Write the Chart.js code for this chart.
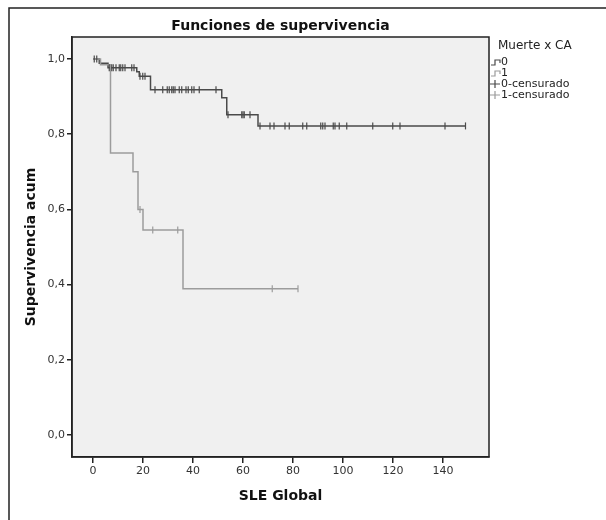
<!DOCTYPE html>
<html>
<head>
<meta charset="utf-8">
<script src="https://cdn.jsdelivr.net/npm/chart.js@4.4.1/dist/chart.umd.min.js"></script>
<style>
  html, body { margin: 0; padding: 0; background: #fff; }
  #wrap { width: 606px; height: 520px; position: relative; }
</style>
</head>
<body>
<div id="wrap"><canvas id="km"></canvas></div>
<script>
// Ticks
const xTicks = [0, 20, 40, 60, 80, 100, 120, 140];
const yTicks = [0, 0.2, 0.4, 0.6, 0.8, 1.0];

// Muerte x CA = 0 : tiempos y supervivencia acumulada (escalones)
const times0 = [0, 2.5, 6, 17.5, 18.5, 23, 51.5, 53.5, 66, 149];
const surv0  = [1, 0.989, 0.977, 0.966, 0.954, 0.918, 0.897, 0.852, 0.822, 0.822];
const cens0  = [0.5, 1.5, 6.5, 7.5, 8.1, 9.2, 10.5, 11.1, 11.9, 12.8, 15.5, 16.4,
                18.8, 19.9, 20.8,
                24.8, 27.9, 29.7, 30.5, 31.5, 32.1, 32.8, 34.5, 35.5, 37.2, 38.1, 39.5, 40.4, 42.5, 49.2,
                54, 59.5, 60, 60.5, 62.8,
                66.8, 70.8, 72.4, 76.8, 78.5, 83.9, 85.5, 91.1, 91.9, 92.8, 96.1, 96.8, 98.5,
                101.5, 111.9, 119.9, 122.8, 140.8, 149];

// Muerte x CA = 1
const times1 = [0, 3, 7, 16, 18, 20, 36, 82];
const surv1  = [1, 0.985, 0.75, 0.70, 0.60, 0.545, 0.389, 0.389];
const cens1  = [18.8, 23.9, 33.9, 71.7, 82];

const legendTitle = 'Muerte x CA';
const legendLabels = ['0', '1', '0-censurado', '1-censurado'];

const dark = '#4a4a4a';
const light = '#9c9c9c';
const fontFamily = '"DejaVu Sans", Verdana, sans-serif';

// valor de la curva en el tiempo t
const survAt = (times, surv, t) => {
    let s = surv[0];
    for (let i = 0; i < times.length; i++) {
        if (times[i] <= t) s = surv[i];
    }
    return s;
};

const stepPoints = (times, surv) => times.map((t, i) => ({ x: t, y: surv[i] }));
const censPoints = (cens, times, surv) => cens.map(t => ({ x: t, y: survAt(times, surv, t) }));

// fondo, marco, título y leyenda
const decor = {
    id: 'decor',
    beforeDraw(chart) {
        const { ctx, chartArea: a } = chart;
        ctx.save();
        ctx.fillStyle = '#fff';
        ctx.fillRect(0, 0, chart.width, chart.height);
        ctx.strokeStyle = '#222';
        ctx.lineWidth = 1.5;
        ctx.strokeRect(9, 8, 700, 600);
        ctx.fillStyle = '#f0f0f0';
        ctx.fillRect(a.left, a.top, a.right - a.left, a.bottom - a.top);
        ctx.restore();
    },
    afterDraw(chart) {
        const { ctx, chartArea: a } = chart;
        ctx.save();
        ctx.strokeStyle = '#222';
        ctx.lineWidth = 1.5;
        ctx.strokeRect(a.left, a.top, a.right - a.left, a.bottom - a.top);

        ctx.fillStyle = '#111';
        ctx.font = 'bold 14px ' + fontFamily;
        ctx.textAlign = 'center';
        ctx.textBaseline = 'middle';
        ctx.fillText('Funciones de supervivencia', (a.left + a.right) / 2, 26);

        // leyenda
        const lx = a.right + 9;
        ctx.textAlign = 'left';
        ctx.font = '12px ' + fontFamily;
        ctx.fillStyle = '#222';
        ctx.fillText(legendTitle, lx, 46);
        ctx.font = '11px ' + fontFamily;
        const colors = [dark, light, dark, light];
        legendLabels.forEach((lab, i) => {
            const y = 62 + i * 11;
            ctx.strokeStyle = colors[i];
            ctx.lineWidth = 1.2;
            ctx.beginPath();
            if (i < 2) {
                ctx.moveTo(a.right + 2, y + 3);
                ctx.lineTo(a.right + 6, y + 3);
                ctx.lineTo(a.right + 6, y - 2);
                ctx.lineTo(a.right + 11, y - 2);
                ctx.lineTo(a.right + 11, y + 1);
            } else {
                ctx.moveTo(a.right + 1, y);
                ctx.lineTo(a.right + 11, y);
                ctx.moveTo(a.right + 6, y - 4);
                ctx.lineTo(a.right + 6, y + 4);
            }
            ctx.stroke();
            ctx.fillStyle = '#222';
            ctx.fillText(lab, a.right + 12, y);
        });
        ctx.restore();
    }
};

const axisTitleFont = { family: fontFamily, size: 14, weight: 'bold' };
const tickFont = { family: fontFamily, size: 11 };

new Chart(document.getElementById('km'), {
    type: 'line',
    data: {
        datasets: [
            {
                label: '0',
                data: stepPoints(times0, surv0),
                stepped: true,
                borderColor: dark,
                borderWidth: 1.5,
                pointRadius: 0,
                order: 2
            },
            {
                label: '1',
                data: stepPoints(times1, surv1),
                stepped: true,
                borderColor: light,
                borderWidth: 1.5,
                pointRadius: 0,
                order: 1
            },
            {
                label: '0-censurado',
                type: 'scatter',
                data: censPoints(cens0, times0, surv0),
                pointStyle: 'line',
                rotation: 90,
                radius: 3.5,
                borderColor: dark,
                borderWidth: 1.2,
                showLine: false
            },
            {
                label: '1-censurado',
                type: 'scatter',
                data: censPoints(cens1, times1, surv1),
                pointStyle: 'line',
                rotation: 90,
                radius: 3.5,
                borderColor: light,
                borderWidth: 1.2,
                showLine: false
            }
        ]
    },
    options: {
        responsive: true,
        maintainAspectRatio: false,
        animation: false,
        layout: { padding: { top: 37, right: 117, bottom: 0, left: 0 } },
        plugins: {
            legend: { display: false },
            tooltip: { enabled: false }
        },
        scales: {
            x: {
                type: 'linear',
                min: -8.4,
                max: 158.4,
                afterBuildTicks: s => { s.ticks = xTicks.map(v => ({ value: v })); },
                afterFit: s => { s.height = 63; },
                grid: { drawOnChartArea: false, tickLength: 6, color: '#222', lineWidth: 1.5 },
                border: { color: '#222', width: 1.5 },
                ticks: { font: tickFont, color: '#333', padding: 2, maxRotation: 0, autoSkip: false },
                title: { display: true, text: 'SLE Global', font: axisTitleFont, color: '#111', padding: { top: 0, bottom: 15 } }
            },
            y: {
                min: -0.0585,
                max: 1.0585,
                afterBuildTicks: s => { s.ticks = yTicks.map(v => ({ value: v })); },
                afterFit: s => { s.width = 72; },
                grid: { drawOnChartArea: false, tickLength: 5, color: '#222', lineWidth: 1.5 },
                border: { color: '#222', width: 1.5 },
                ticks: {
                    font: tickFont, color: '#333', padding: 2, autoSkip: false,
                    callback: v => v.toFixed(1).replace('.', ',')
                },
                title: { display: true, text: 'Supervivencia acum', font: axisTitleFont, color: '#111', padding: { top: 23, bottom: 0 } }
            }
        }
    },
    plugins: [decor]
});
</script>
</body>
</html>
